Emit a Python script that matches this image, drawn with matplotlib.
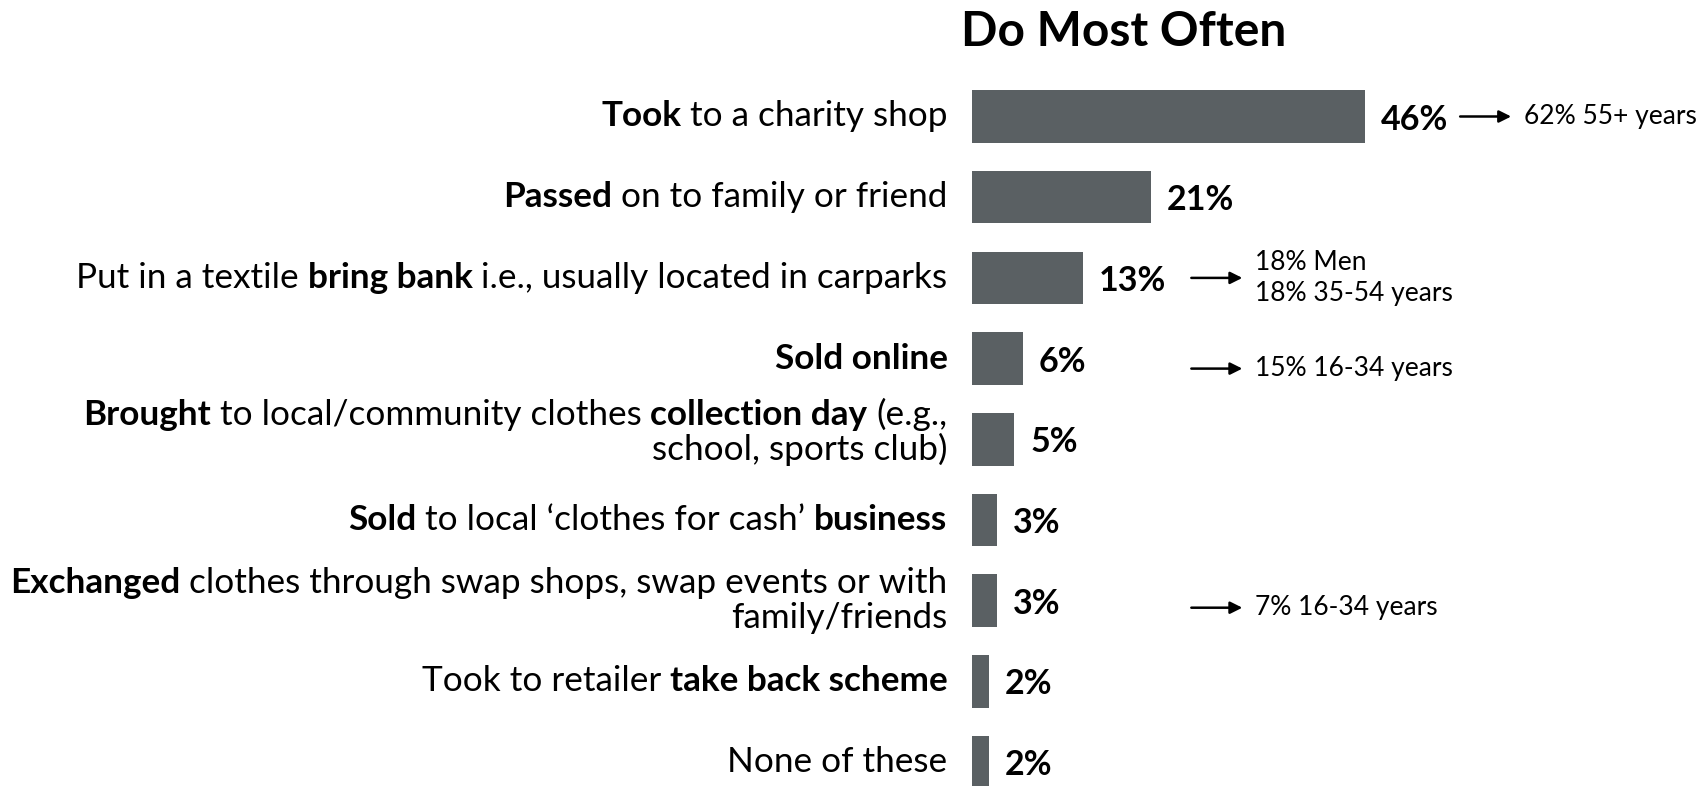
import re
import matplotlib.pyplot as plt

plt.rcParams['font.family'] = ['Lato', 'DejaVu Sans']

# Share of respondents by what they do most often with unwanted clothes
# (**...** marks the words set in bold, \n splits a label over two lines)
categories = [
    '**Took** to a charity shop',
    '**Passed** on to family or friend',
    'Put in a textile **bring bank** i.e., usually located in carparks',
    '**Sold online**',
    '**Brought** to local/community clothes **collection day** (e.g.,\nschool, sports club)',
    '**Sold** to local \u2018clothes for cash\u2019 **business**',
    '**Exchanged** clothes through swap shops, swap events or with\nfamily/friends',
    'Took to retailer **take back scheme**',
    'None of these',
]
values = [46, 21, 13, 6, 5, 3, 3, 2, 2]
value_labels = [f'{v}%' for v in values]

# Subgroup call-outs to the right of the bars
note_rows = [0, 2, 3, 6]
note_texts = ['62% 55+ years', '18% Men\n18% 35-54 years', '15% 16-34 years', '7% 16-34 years']
note_shift = [0, 0, 10, 7]          # px, downward nudge of each call-out
label_shift = [0, 0, 0, 0, -7, 0, 0, 0, 0]

title = 'Do Most Often'
bar_color = '#5A6063'
label_size = 25.3
value_size = 24.5
note_size = 19

W, H = 1706, 786
fig = plt.figure(figsize=(W / 100, H / 100), dpi=100)
px_per_pct = 8.55
ax = fig.add_axes([971.6 / W, 0, (W - 971.6) / W, 1])
rows = list(range(len(values)))
ax.barh(rows, values, height=0.65, color=bar_color)
ax.set_xlim(0, (W - 971.6) / px_per_pct)
ax.set_ylim((H - 116.5) / 80.7, -116.5 / 80.7)
ax.axis('off')

renderer = fig.canvas.get_renderer()


def text_width(s, weight='normal'):
    t = fig.text(0, 0, s, fontsize=label_size, fontweight=weight)
    w = t.get_window_extent(renderer).width
    t.remove()
    return w


space_w = text_width('x x') - text_width('xx')


def draw_label_line(line, row, dy):
    # right-aligned run of regular/bold pieces, built from the right end
    parts = [p for p in re.split(r'(\*\*.+?\*\*)', line) if p]
    x = -24
    for part in reversed(parts):
        bold = part.startswith('**')
        txt = part.strip('*')
        core = txt.strip(' ')
        lead = len(txt) - len(txt.lstrip(' '))
        trail = len(txt) - len(txt.rstrip(' '))
        x -= trail * space_w
        t = ax.annotate(core, xy=(0, row), xytext=(x, -dy), textcoords='offset pixels',
                        ha='right', va='center', fontsize=label_size,
                        fontweight='bold' if bold else 'normal', annotation_clip=False)
        x -= t.get_window_extent(renderer).width
        x -= lead * space_w


for i, label in enumerate(categories):
    lines = label.split('\n')
    for k, line in enumerate(lines):
        dy = (k - (len(lines) - 1) / 2) * 35 + label_shift[i]
        draw_label_line(line, i, dy)

value_texts = []
for i, v in enumerate(values):
    t = ax.annotate(value_labels[i], xy=(v, i), xytext=(16, -3), textcoords='offset pixels',
                    ha='left', va='center', fontsize=value_size, fontweight='bold',
                    annotation_clip=False)
    value_texts.append(t)

# arrows + subgroup notes
note_col = ax.transData.transform((25.7, 0))[0]
for row, txt, shift in zip(note_rows, note_texts, note_shift):
    y = ax.transData.transform((0, row))[1] - shift
    x0 = max(note_col, value_texts[row].get_window_extent(renderer).x1 + 12)
    x1 = x0 + 51
    ax.annotate('', xy=(x1, y), xycoords='figure pixels', xytext=(x0, y),
                textcoords='figure pixels',
                arrowprops=dict(arrowstyle='-|>', color='black', lw=1.8,
                                mutation_scale=18, shrinkA=0, shrinkB=0))
    ax.annotate(txt, xy=(x1 + 13, y), xycoords='figure pixels', ha='left', va='center',
                fontsize=note_size, linespacing=1.3, annotation_clip=False)

fig.text(1123.5 / W, 1 - 32 / H, title, ha='center', va='center',
         fontsize=34.5, fontweight='bold')

fig.savefig('out.png', dpi=100)
